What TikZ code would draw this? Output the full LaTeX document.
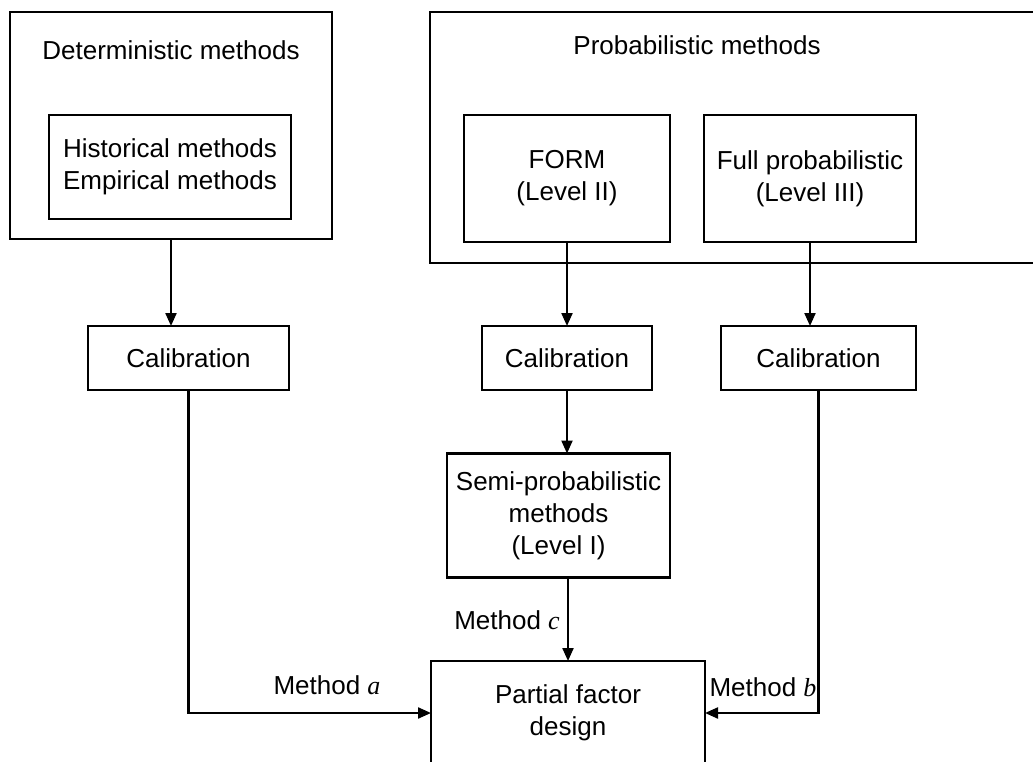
\documentclass[tikz,border=0pt]{standalone}
\usepackage{fontspec}
\setmainfont{Liberation Sans}
\newfontfamily\serifit{Liberation Serif}
\usetikzlibrary{arrows.meta}
\begin{document}
\begin{tikzpicture}[x=1pt,y=-1pt,
  box/.style={draw,line width=2.2pt,inner sep=0pt,outer sep=0pt,align=center,
    font=\fontsize{26}{32}\selectfont},
  lbl/.style={inner sep=0pt,font=\fontsize{26}{32}\selectfont},
  arr/.style={line width=2.2pt,-{Triangle[length=13pt,width=11pt]}}]
\useasboundingbox (0,0) rectangle (1033,762);
\fill[white] (0,0) rectangle (1033,762);
% containers
\node[box,minimum width=322,minimum height=227] (det) at (171,125.5) {};
\node[lbl] (dettitle) at (171,50) {Deterministic methods};
\node[box,minimum width=242,minimum height=104] (hist) at (170,167) {Historical methods\\Empirical methods};
\node[box,minimum width=615,minimum height=251] (prob) at (737.5,137.5) {};
\node[lbl] (probtitle) at (697,45) {Probabilistic methods};
\node[box,minimum width=206,minimum height=127] (form) at (567,178.5) {FORM\\(Level II)};
\node[box,minimum width=212,minimum height=127] (full) at (810,178.5) {Full probabilistic\\(Level III)};
% calibrations
\node[box,minimum width=201,minimum height=64] (cal1) at (188.5,358) {Calibration};
\node[box,minimum width=170,minimum height=64] (cal2) at (567,358) {Calibration};
\node[box,minimum width=195,minimum height=64] (cal3) at (818.5,358) {Calibration};
\node[box,minimum width=223,minimum height=124] (semi) at (558.5,515.5) {Semi-probabilistic\\methods\\(Level I)};
\node[box,minimum width=274,minimum height=104] (partial) at (568,713) {Partial factor\\design};
% connectors
\draw[arr] (det.south) -- (det.south |- cal1.north);
\draw[arr] (form.south) -- (form.south |- cal2.north);
\draw[arr] (full.south) -- (full.south |- cal3.north);
\draw[arr] (cal2.south) -- (cal2.south |- semi.north);
\draw[arr] (partial.north |- semi.south) -- (partial.north);
\draw[arr] (cal1.south) |- (partial.west);
\draw[arr] (cal3.south) |- (partial.east);
% labels
\node[lbl] (la) at (327,685) {Method {\serifit\itshape a}};
\node[lbl] (lc) at (507,620) {Method {\serifit\itshape c}};
\node[lbl] (lb) at (763,687) {Method {\serifit\itshape b}};
\end{tikzpicture}
\end{document}
